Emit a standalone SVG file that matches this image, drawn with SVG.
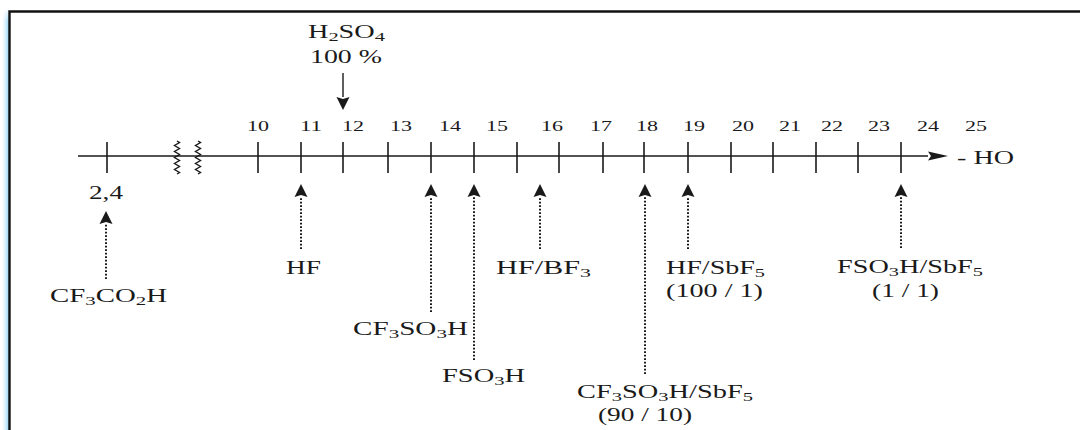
<svg xmlns="http://www.w3.org/2000/svg" width="1080" height="430" viewBox="0 0 1080 430">
<defs>
<style>
text{font-family:"Liberation Serif","Times New Roman",serif;fill:#1a1a1a;}
.t{font-size:18px;}
.n{font-size:15px;}
.s{font-size:13px;}
.tick{stroke:#1a1a1a;stroke-width:1.6;fill:none;}
.axis{stroke:#1a1a1a;stroke-width:1.5;fill:none;}
.dot{stroke:#1a1a1a;stroke-width:2;stroke-dasharray:1.8 1.7;fill:none;}
.solid{stroke:#1a1a1a;stroke-width:1.4;fill:none;}
.zz{stroke:#1a1a1a;stroke-width:1.4;fill:none;}
</style>
<linearGradient id="glow" x1="0" y1="0" x2="1" y2="0">
<stop offset="0" stop-color="#bfe6fb" stop-opacity="0"/>
<stop offset="1" stop-color="#8fd3f5" stop-opacity="1"/>
</linearGradient>
<linearGradient id="glowTop" x1="0" y1="0" x2="0" y2="1">
<stop offset="0" stop-color="#fff" stop-opacity="1"/>
<stop offset="1" stop-color="#fff" stop-opacity="0"/>
</linearGradient>
<marker id="ah" viewBox="0 -7 14 14" refX="0" refY="0" markerWidth="14" markerHeight="14" markerUnits="userSpaceOnUse" orient="auto">
<path d="M0,-6.5 L13,0 L0,6.5 L2,0 z" fill="#1a1a1a"/>
</marker>
<marker id="axh" viewBox="0 -5 21 10" refX="0" refY="0" markerWidth="21" markerHeight="10" markerUnits="userSpaceOnUse" orient="auto">
<path d="M0,-4.5 L20,0 L0,4.5 L3,0 z" fill="#1a1a1a"/>
</marker>
<path id="zig" d="M0,141 l2.5,1.5 l-5,3 l5,3 l-5,3 l5,3 l-5,3 l5,3 l-5,3 l5,3 l-5,3 l5,3 l-2.5,1.5"/>
</defs>

<rect x="0" y="0" width="1080" height="430" fill="#ffffff"/>
<g id="frame">
<rect x="2" y="10" width="7" height="420" fill="url(#glow)"/>
<rect x="0" y="8" width="10" height="14" fill="url(#glowTop)"/>
<path d="M9.5,430 L9.5,11.5 L1080,11.5" stroke="#111" stroke-width="2.4" fill="none"/>
</g>

<g id="axis">
<line class="axis" x1="78" y1="156" x2="928" y2="156" marker-end="url(#axh)"/>
<line class="tick" x1="107" y1="142" x2="107" y2="173" stroke="#555"/>
<line class="tick" x1="258" y1="142" x2="258" y2="173"/>
<line class="tick" x1="301" y1="142" x2="301" y2="173"/>
<line class="tick" x1="343" y1="142" x2="343" y2="173"/>
<line class="tick" x1="388" y1="142" x2="388" y2="173"/>
<line class="tick" x1="431" y1="142" x2="431" y2="173"/>
<line class="tick" x1="474" y1="142" x2="474" y2="173"/>
<line class="tick" x1="517" y1="142" x2="517" y2="173"/>
<line class="tick" x1="559" y1="142" x2="559" y2="173"/>
<line class="tick" x1="603" y1="142" x2="603" y2="173"/>
<line class="tick" x1="644" y1="142" x2="644" y2="173"/>
<line class="tick" x1="688" y1="142" x2="688" y2="173"/>
<line class="tick" x1="731" y1="142" x2="731" y2="173"/>
<line class="tick" x1="773" y1="142" x2="773" y2="173"/>
<line class="tick" x1="816" y1="142" x2="816" y2="173"/>
<line class="tick" x1="858" y1="142" x2="858" y2="173"/>
<line class="tick" x1="901" y1="142" x2="901" y2="173"/>
<use href="#zig" class="zz" transform="translate(177,0)"/>
<use href="#zig" class="zz" transform="translate(198,0)"/>
<g class="n">
<text x="247" y="131" textLength="22" lengthAdjust="spacingAndGlyphs">10</text>
<text x="300" y="131" textLength="22" lengthAdjust="spacingAndGlyphs">11</text>
<text x="342" y="131" textLength="22" lengthAdjust="spacingAndGlyphs">12</text>
<text x="390" y="131" textLength="22" lengthAdjust="spacingAndGlyphs">13</text>
<text x="439" y="131" textLength="22" lengthAdjust="spacingAndGlyphs">14</text>
<text x="486" y="131" textLength="22" lengthAdjust="spacingAndGlyphs">15</text>
<text x="541" y="131" textLength="22" lengthAdjust="spacingAndGlyphs">16</text>
<text x="590" y="131" textLength="22" lengthAdjust="spacingAndGlyphs">17</text>
<text x="636" y="131" textLength="22" lengthAdjust="spacingAndGlyphs">18</text>
<text x="683" y="131" textLength="22" lengthAdjust="spacingAndGlyphs">19</text>
<text x="732" y="131" textLength="22" lengthAdjust="spacingAndGlyphs">20</text>
<text x="779" y="131" textLength="22" lengthAdjust="spacingAndGlyphs">21</text>
<text x="821" y="131" textLength="22" lengthAdjust="spacingAndGlyphs">22</text>
<text x="868" y="131" textLength="22" lengthAdjust="spacingAndGlyphs">23</text>
<text x="917" y="131" textLength="22" lengthAdjust="spacingAndGlyphs">24</text>
<text x="965" y="131" textLength="22" lengthAdjust="spacingAndGlyphs">25</text>
</g>
<text class="t" x="957" y="164" textLength="57" lengthAdjust="spacingAndGlyphs">- HO</text>
<text class="t" x="89" y="199" textLength="34" lengthAdjust="spacingAndGlyphs">2,4</text>
</g>

<g id="connectors">
<line class="solid" x1="343" y1="73" x2="343" y2="97" marker-end="url(#ah)"/>
<line class="dot" x1="106" y1="279" x2="106" y2="224" marker-end="url(#ah)"/>
<line class="dot" x1="301" y1="249" x2="301" y2="197" marker-end="url(#ah)"/>
<line class="dot" x1="431" y1="312" x2="431" y2="197" marker-end="url(#ah)"/>
<line class="dot" x1="474" y1="360" x2="474" y2="197" marker-end="url(#ah)"/>
<line class="dot" x1="540" y1="249" x2="540" y2="197" marker-end="url(#ah)"/>
<line class="dot" x1="645" y1="374" x2="645" y2="197" marker-end="url(#ah)"/>
<line class="dot" x1="688" y1="249" x2="688" y2="197" marker-end="url(#ah)"/>
<line class="dot" x1="901" y1="248" x2="901" y2="197" marker-end="url(#ah)"/>
</g>

<g id="h2so4">
<text class="t" x="308" y="38" textLength="77" lengthAdjust="spacingAndGlyphs">H<tspan class="s" dy="3">2</tspan><tspan dy="-3">SO</tspan><tspan class="s" dy="3">4</tspan></text>
<text class="t" x="310" y="63" textLength="72" lengthAdjust="spacingAndGlyphs">100 %</text>
</g>
<g id="cf3co2h">
<text class="t" x="50" y="302" textLength="117" lengthAdjust="spacingAndGlyphs">CF<tspan class="s" dy="3">3</tspan><tspan dy="-3">CO</tspan><tspan class="s" dy="3">2</tspan><tspan dy="-3">H</tspan></text>
</g>
<g id="hf">
<text class="t" x="286" y="274" textLength="35" lengthAdjust="spacingAndGlyphs">HF</text>
</g>
<g id="cf3so3h">
<text class="t" x="353" y="335" textLength="115" lengthAdjust="spacingAndGlyphs">CF<tspan class="s" dy="3">3</tspan><tspan dy="-3">SO</tspan><tspan class="s" dy="3">3</tspan><tspan dy="-3">H</tspan></text>
</g>
<g id="fso3h">
<text class="t" x="442" y="382" textLength="83" lengthAdjust="spacingAndGlyphs">FSO<tspan class="s" dy="3">3</tspan><tspan dy="-3">H</tspan></text>
</g>
<g id="hfbf3">
<text class="t" x="496" y="274" textLength="95" lengthAdjust="spacingAndGlyphs">HF/BF<tspan class="s" dy="3">3</tspan></text>
</g>
<g id="cf3so3h-sbf5">
<text class="t" x="577" y="398" textLength="176" lengthAdjust="spacingAndGlyphs">CF<tspan class="s" dy="3">3</tspan><tspan dy="-3">SO</tspan><tspan class="s" dy="3">3</tspan><tspan dy="-3">H/SbF</tspan><tspan class="s" dy="3">5</tspan></text>
<text class="t" x="598" y="421" textLength="94" lengthAdjust="spacingAndGlyphs">(90 / 10)</text>
</g>
<g id="hf-sbf5">
<text class="t" x="666" y="274" textLength="99" lengthAdjust="spacingAndGlyphs">HF/SbF<tspan class="s" dy="3">5</tspan></text>
<text class="t" x="666" y="297" textLength="97" lengthAdjust="spacingAndGlyphs">(100 / 1)</text>
</g>
<g id="fso3h-sbf5">
<text class="t" x="837" y="273" textLength="146" lengthAdjust="spacingAndGlyphs">FSO<tspan class="s" dy="3">3</tspan><tspan dy="-3">H/SbF</tspan><tspan class="s" dy="3">5</tspan></text>
<text class="t" x="872" y="297" textLength="67" lengthAdjust="spacingAndGlyphs">(1 / 1)</text>
</g>
</svg>
